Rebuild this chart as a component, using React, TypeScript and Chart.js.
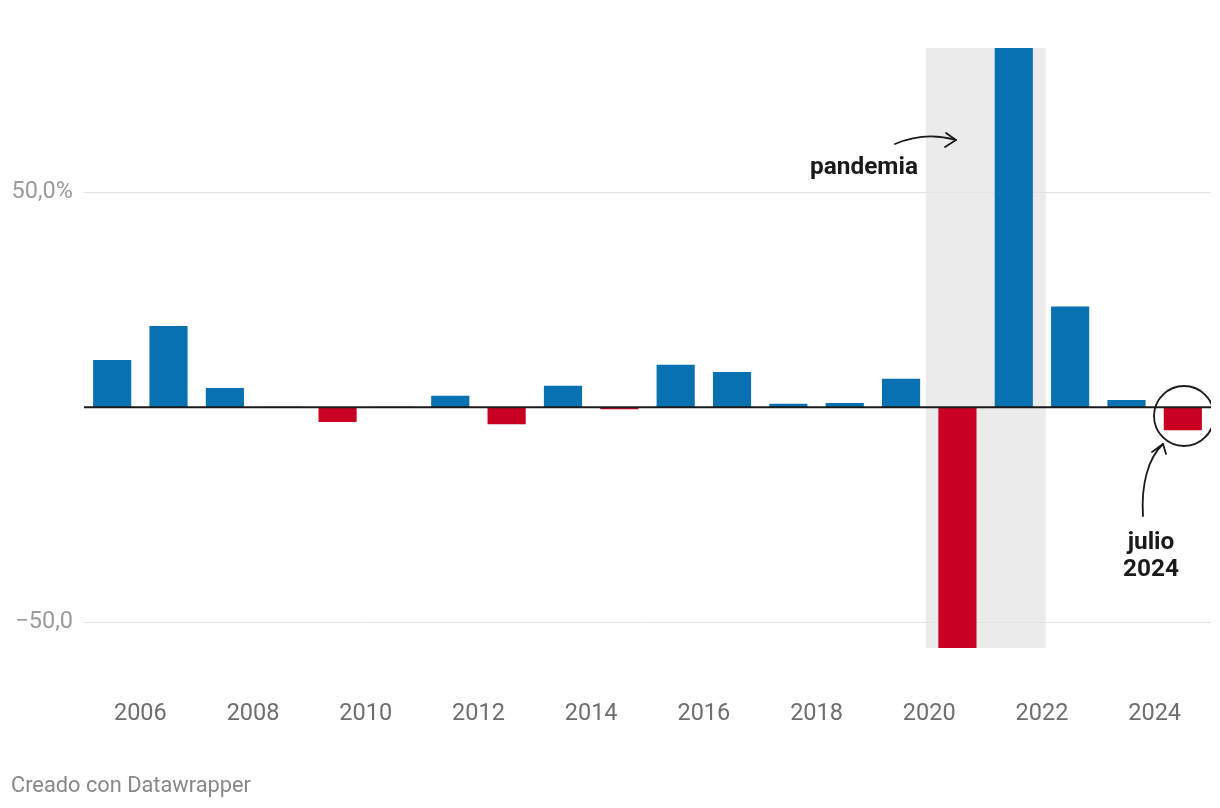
import React, { useEffect, useRef } from "react";
import { Chart, registerables } from "chart.js";

Chart.register(...registerables);

const years = [2005, 2006, 2007, 2008, 2009, 2010, 2011, 2012, 2013, 2014, 2015, 2016, 2017, 2018, 2019, 2020, 2021, 2022, 2023, 2024];
const values = [10.9, 18.8, 4.4, 0, -3.4, 0, 2.6, -3.9, 4.9, -0.4, 9.8, 8.1, 0.7, 0.9, 6.5, -56.0, 83.5, 23.3, 1.6, -5.3];
const xTickYears = [2006, 2008, 2010, 2012, 2014, 2016, 2018, 2020, 2022, 2024];
const yTickValues = [-50, 0, 50];
const yTickLabels = ["\u221250,0", "", "50,0%"];
const bandRange = [2019.94, 2022.07];
const pandemiaLabel = "pandemia";
const julioLabel = ["julio", "2024"];
const footerText = "Creado con Datawrapper";

const BLUE = "#0771b2";
const RED = "#c90022";
const FONT = "Roboto, 'Noto Sans', sans-serif";

export default function App() {
  const ref = useRef<HTMLCanvasElement | null>(null);

  useEffect(() => {
    if (!ref.current) return;

    const overlay = {
      id: "overlay",
      beforeDraw(chart: any) {
        const { ctx, chartArea, scales } = chart;
        const x = scales.x;
        ctx.save();
        ctx.fillStyle = "#ebebeb";
        const x0 = x.getPixelForValue(bandRange[0]);
        const x1 = x.getPixelForValue(bandRange[1]);
        ctx.fillRect(x0, chartArea.top, x1 - x0, chartArea.bottom - chartArea.top);
        ctx.restore();
      },
      afterDatasetsDraw(chart: any) {
        const { ctx, chartArea, scales } = chart;
        const y0 = scales.y.getPixelForValue(0);
        ctx.save();
        // baseline
        ctx.strokeStyle = "#1a1a1a";
        ctx.lineWidth = 2;
        ctx.beginPath();
        ctx.moveTo(chartArea.left, y0);
        ctx.lineTo(chartArea.right, y0);
        ctx.stroke();

        // pandemia annotation
        ctx.fillStyle = "#1a1a1a";
        ctx.font = `bold 24.4px ${FONT}`;
        ctx.textAlign = "right";
        ctx.textBaseline = "middle";
        ctx.fillText(pandemiaLabel, 918, 168);

        ctx.lineWidth = 1.8;
        ctx.lineCap = "round";
        ctx.lineJoin = "round";
        ctx.beginPath();
        ctx.moveTo(895, 144);
        ctx.quadraticCurveTo(925, 131, 956, 140);
        ctx.stroke();
        ctx.beginPath();
        ctx.moveTo(946, 133);
        ctx.lineTo(956, 140);
        ctx.lineTo(945, 147);
        ctx.stroke();

        // julio 2024 annotation
        ctx.textAlign = "center";
        ctx.fillText(julioLabel[0], 1151, 543);
        ctx.fillText(julioLabel[1], 1151, 570);

        ctx.save();
        ctx.beginPath();
        ctx.rect(0, 0, chartArea.right, chart.height);
        ctx.clip();
        ctx.beginPath();
        ctx.arc(1184, 416, 30, 0, Math.PI * 2);
        ctx.stroke();
        ctx.restore();

        ctx.beginPath();
        ctx.moveTo(1143, 516);
        ctx.bezierCurveTo(1141, 485, 1148, 458, 1163, 444);
        ctx.stroke();
        ctx.beginPath();
        ctx.moveTo(1152, 452);
        ctx.lineTo(1163, 444);
        ctx.lineTo(1166, 454);
        ctx.stroke();
        ctx.restore();
      },
      afterDraw(chart: any) {
        const { ctx } = chart;
        ctx.save();
        ctx.fillStyle = "#888888";
        ctx.font = `21.8px ${FONT}`;
        ctx.textAlign = "left";
        ctx.textBaseline = "middle";
        ctx.fillText(footerText, 11, 787);
        ctx.restore();
      },
    };

    const chart = new Chart(ref.current, {
      type: "bar",
      data: {
        datasets: [
          {
            data: years.map((yr, i) => ({ x: yr + 0.5, y: values[i] })),
            backgroundColor: values.map((v) => (v < 0 ? RED : BLUE)),
            borderWidth: 0,
            barThickness: 37.5,
          },
        ],
      },
      options: {
        responsive: false,
        animation: false,
        layout: { padding: { top: 48, right: 9, left: 0, bottom: 0 } },
        plugins: {
          legend: { display: false },
          tooltip: { enabled: false },
        },
        scales: {
          x: {
            type: "linear",
            offset: false,
            min: years[0],
            max: years[years.length - 1] + 1,
            grid: { display: false, drawTicks: false, offset: false },
            border: { display: false },
            afterBuildTicks: (scale: any) => {
              scale.ticks = xTickYears.map((v) => ({ value: v }));
            },
            afterFit: (scale: any) => {
              scale.height = 160;
              scale.paddingLeft = 0;
              scale.paddingRight = 0;
            },
            ticks: {
              padding: 52,
              color: "#6e6e6e",
              font: { family: FONT, size: 23.5 },
              maxRotation: 0,
              autoSkip: false,
              callback: (v: any) => String(v),
            },
          },
          y: {
            min: -56,
            max: 83.5,
            grid: {
              drawTicks: false,
              color: (c: any) => (c.tick && c.tick.value === 0 ? "rgba(0,0,0,0)" : "#e3e3e3"),
              lineWidth: 1,
            },
            border: { display: false },
            afterBuildTicks: (scale: any) => {
              scale.ticks = yTickValues.map((v) => ({ value: v }));
            },
            afterFit: (scale: any) => {
              scale.width = 84;
            },
            ticks: {
              padding: 11,
              color: "#9b9b9b",
              font: { family: FONT, size: 23.5 },
              callback: (v: any) => {
                const i = yTickValues.indexOf(Number(v));
                return i >= 0 ? yTickLabels[i] : "";
              },
            },
          },
        },
      },
      plugins: [overlay],
    } as any);

    return () => chart.destroy();
  }, []);

  return (
    <div style={{ position: "fixed", left: 0, top: 0, width: 1220, height: 808, background: "#fff" }}>
      <canvas ref={ref} width={1220} height={808} style={{ display: "block" }} />
    </div>
  );
}
